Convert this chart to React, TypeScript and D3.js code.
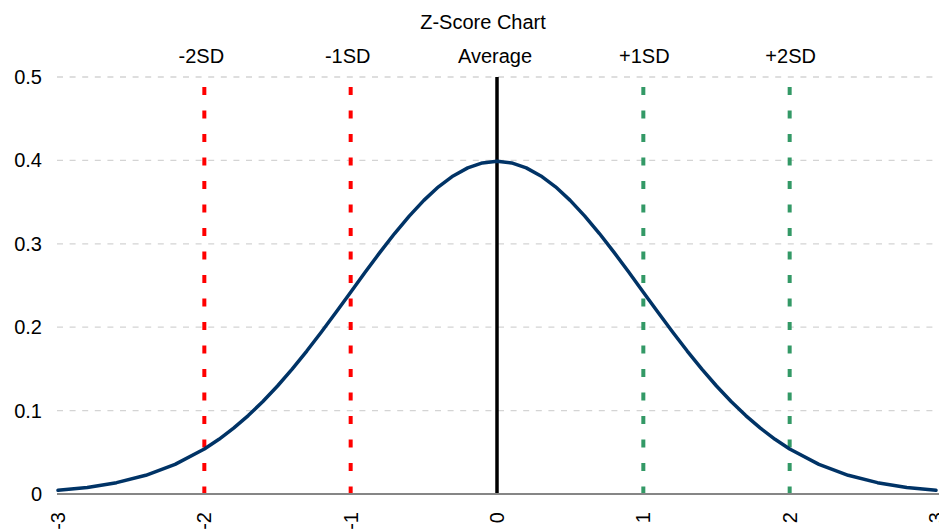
import React from 'react';
import * as d3 from 'd3';

// z values and density
const zValues = [-3, -2.8, -2.6, -2.4, -2.2, -2.0, -1.9, -1.8, -1.7, -1.6, -1.5, -1.4, -1.3, -1.2, -1.1, -1.0,
  -0.9, -0.8, -0.7, -0.6, -0.5, -0.4, -0.3, -0.2, -0.1, 0, 0.1, 0.2, 0.3, 0.4, 0.5, 0.6, 0.7, 0.8, 0.9, 1.0,
  1.1, 1.2, 1.3, 1.4, 1.5, 1.6, 1.7, 1.8, 1.9, 2.0, 2.2, 2.4, 2.6, 2.8, 3];
const density = [0.0044, 0.0079, 0.0136, 0.0224, 0.0355, 0.054, 0.0656, 0.079, 0.094, 0.1109, 0.1295, 0.1497,
  0.1714, 0.1942, 0.2179, 0.242, 0.2661, 0.2897, 0.3123, 0.3332, 0.3521, 0.3683, 0.3814, 0.391, 0.397, 0.3989,
  0.397, 0.391, 0.3814, 0.3683, 0.3521, 0.3332, 0.3123, 0.2897, 0.2661, 0.242, 0.2179, 0.1942, 0.1714, 0.1497,
  0.1295, 0.1109, 0.094, 0.079, 0.0656, 0.054, 0.0355, 0.0224, 0.0136, 0.0079, 0.0044];

const yTicks = [0, 0.1, 0.2, 0.3, 0.4, 0.5];
const xTicks = [-3, -2, -1, 0, 1, 2, 3];

const markerPos = [-2, -1, 0, 1, 2];
const markerLabels = ['-2SD', '-1SD', 'Average', '+1SD', '+2SD'];
const markerColors = ['#ff0000', '#ff0000', '#000000', '#339966', '#339966'];

const W = 939;
const H = 529;
const font = 'Liberation Sans, Arial, sans-serif';

export default function App() {
  const x = d3.scaleLinear().domain([-3, 3]).range([58, 936]);
  const y = d3.scaleLinear().domain([0, 0.5]).range([494, 77]);

  const line = d3.line<number>()
    .x((_, i) => x(zValues[i]))
    .y(d => y(d))
    .curve(d3.curveLinear);

  return (
    <svg width={W} height={H} style={{ position: 'absolute', left: 0, top: 0, background: '#fff' }}
      fontFamily={font}>
      {/* gridlines */}
      {yTicks.filter(t => t > 0).map(t => (
        <line key={t} x1={57} x2={W} y1={y(t)} y2={y(t)} stroke="#d4d4d4" strokeWidth={1.3}
          strokeDasharray="6,6.6" />
      ))}

      {/* y tick labels */}
      {yTicks.map(t => (
        <text key={t} x={42} y={y(t) + 7} textAnchor="end" fontSize={20} fill="#000">
          {t === 0 ? '0' : d3.format('.1f')(t)}
        </text>
      ))}

      {/* reference lines */}
      {markerPos.map((m, i) => m === 0 ? (
        <line key={m} x1={x(m)} x2={x(m)} y1={y(0.5)} y2={y(0)} stroke="#000" strokeWidth={3.5} />
      ) : (
        <line key={m} x1={x(m)} x2={x(m)} y1={87} y2={y(0)} stroke={markerColors[i]} strokeWidth={4}
          strokeDasharray="8,15.5" />
      ))}

      {/* axis */}
      <line x1={57} x2={W} y1={y(0)} y2={y(0)} stroke="#868686" strokeWidth={2} />

      {/* curve */}
      <path d={line(density) || ''} fill="none" stroke="#003366" strokeWidth={3.5}
        strokeLinejoin="round" strokeLinecap="round" />

      {/* x tick labels */}
      {xTicks.map(t => (
        <text key={t} transform={`translate(${x(t) + 7},512) rotate(-90)`} textAnchor="end"
          fontSize={20} fill="#000">{t}</text>
      ))}

      {/* marker labels */}
      {markerPos.map((m, i) => (
        <text key={m} x={x(m) + (m === 0 ? -2 : m < 0 ? -3 : 1)} y={63} textAnchor="middle" fontSize={20}
          fill="#000">{markerLabels[i]}</text>
      ))}

      <text x={483} y={29} textAnchor="middle" fontSize={20} fill="#000">Z-Score Chart</text>
    </svg>
  );
}
